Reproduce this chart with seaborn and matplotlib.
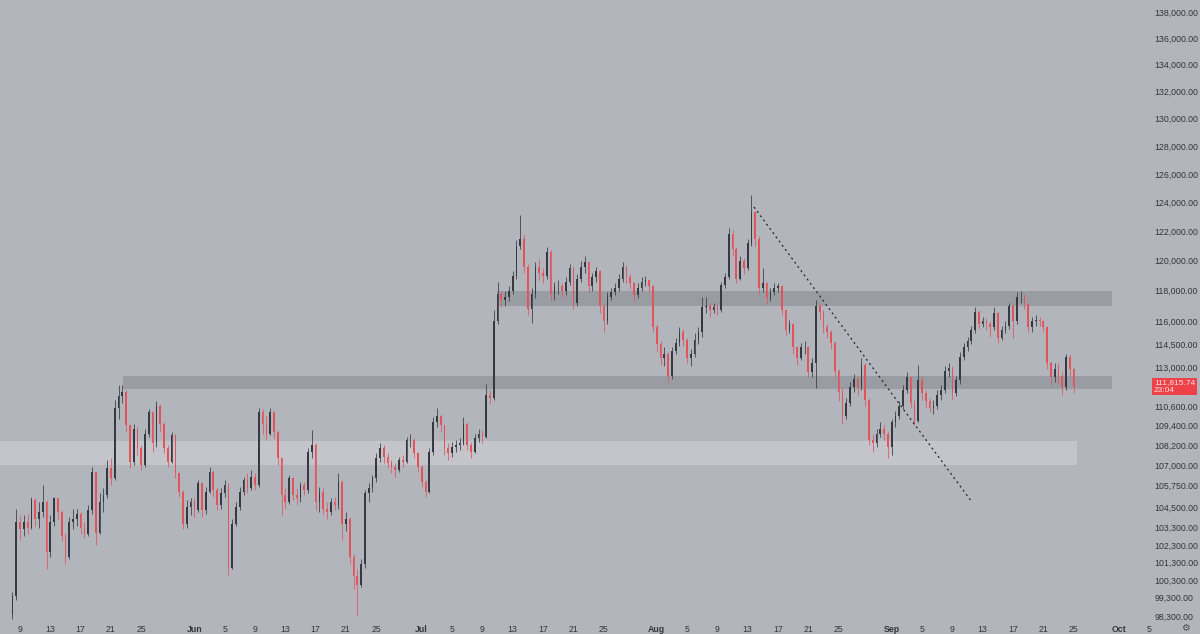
import numpy as np
import pandas as pd
import matplotlib
matplotlib.use('Agg')
import matplotlib.pyplot as plt
import matplotlib.dates as mdates
import matplotlib.transforms as mtransforms
from matplotlib.ticker import NullLocator
import seaborn as sns

# BTC 12h candles, May 8 - Sep 25 2025, prices in thousands of USD
first_open = 98.4

may_close = [99.4, 103.6, 103.2, 103.6, 103.3, 104.9, 103.8, 104.2, 104.8, 101.9,
             103.6, 105.0, 104.2, 102.8, 101.6, 103.6, 103.8, 104.1, 103.3, 102.9,
             104.3, 106.6, 103.0, 104.8, 105.2, 106.8, 106.2, 110.5, 111.2, 111.5,
             109.4, 107.2, 109.2, 108.0, 107.0, 108.9, 110.2, 108.3, 110.6, 109.5,
             108.0, 107.2, 108.8, 106.5, 105.4, 103.5, 104.5, 104.8]
may_high = [99.6, 104.4, 104.0, 104.0, 104.1, 105.1, 105.0, 104.8, 105.8, 104.9,
            104.0, 105.1, 105.0, 104.3, 103.0, 103.9, 104.4, 104.4, 104.2, 103.6,
            104.6, 106.9, 106.5, 105.3, 105.6, 107.3, 107.4, 111.0, 111.9, 111.9,
            111.6, 109.5, 109.5, 109.3, 108.2, 109.2, 110.4, 110.3, 110.9, 110.7,
            109.6, 108.2, 109.0, 108.9, 106.6, 105.5, 104.9, 105.0]
may_low = [98.1, 99.2, 102.6, 102.8, 102.9, 103.2, 103.4, 103.3, 103.9, 100.9,
           101.6, 103.4, 103.8, 102.5, 101.2, 101.5, 103.2, 103.4, 102.9, 102.7,
           102.8, 104.1, 102.3, 102.9, 104.2, 105.0, 105.8, 106.1, 109.8, 110.8,
           109.0, 106.8, 107.0, 107.6, 106.7, 106.9, 108.7, 107.8, 108.1, 109.0,
           107.7, 106.9, 107.1, 106.2, 105.1, 103.2, 103.3, 104.0]

jun_close = [104.3, 105.9, 104.3, 105.4, 106.6, 105.5, 104.6, 105.3, 105.8, 101.0,
             103.5, 104.5, 105.4, 106.1, 105.6, 106.3, 105.8, 110.2, 109.5, 108.9,
             110.2, 109.0, 107.4, 105.2, 104.8, 106.2, 105.2, 105.0, 105.8, 105.5,
             107.8, 108.2, 104.8, 105.4, 104.4, 104.2, 104.8, 104.6, 106.0, 103.5,
             103.8, 101.6, 100.5, 100.0, 101.2, 105.3, 105.6, 106.2, 107.4, 108.0,
             107.5, 107.1, 106.9, 106.7, 107.3, 107.2, 108.5, 108.5, 107.7, 106.9]
jun_high = [105.0, 106.1, 106.0, 105.7, 106.9, 106.7, 105.7, 105.6, 106.1, 105.9,
            103.8, 104.8, 105.7, 106.3, 106.5, 106.7, 106.5, 110.5, 110.4, 110.0,
            110.5, 110.3, 109.1, 107.5, 105.6, 106.4, 106.3, 105.6, 106.0, 106.0,
            108.0, 109.1, 108.3, 105.7, 105.6, 104.8, 105.0, 105.1, 106.5, 106.1,
            104.2, 103.9, 101.8, 100.9, 101.5, 105.5, 105.9, 106.4, 107.7, 108.3,
            108.2, 107.7, 107.3, 107.1, 107.5, 107.6, 108.7, 108.9, 108.6, 107.8]
jun_low = [103.9, 104.2, 103.9, 104.1, 105.3, 105.1, 104.3, 104.4, 105.1, 100.6,
           100.9, 103.4, 104.3, 105.2, 105.3, 105.5, 105.5, 105.7, 108.9, 108.5,
           108.8, 108.6, 107.0, 104.0, 104.4, 104.7, 104.9, 104.6, 104.8, 105.2,
           105.3, 107.4, 104.3, 104.2, 104.1, 103.8, 104.0, 104.3, 104.4, 102.6,
           103.1, 101.2, 99.8, 98.3, 99.9, 101.0, 104.8, 105.4, 106.0, 107.2,
           107.1, 106.8, 106.5, 106.3, 106.6, 106.9, 107.1, 108.1, 107.4, 106.6]

jul_close = [106.0, 105.4, 107.8, 109.6, 110.0, 109.4, 108.0, 107.7, 108.1, 108.2,
             108.3, 109.5, 108.2, 107.8, 108.6, 108.9, 108.7, 111.3, 111.1, 116.0,
             117.8, 117.4, 117.6, 118.0, 119.0, 121.0, 121.5, 119.6, 116.8, 117.8,
             119.6, 119.2, 119.0, 120.6, 117.8, 118.3, 118.3, 118.0, 118.6, 119.5,
             117.2, 118.8, 119.6, 119.9, 118.3, 118.9, 119.3, 117.0, 116.0, 117.6,
             117.9, 118.2, 118.8, 119.6, 118.9, 118.5, 117.7, 118.2, 118.6, 118.7,
             118.3, 115.6]
jul_high = [107.0, 106.1, 108.0, 109.9, 110.5, 110.1, 109.5, 108.3, 108.4, 108.5,
            108.6, 109.9, 109.6, 108.4, 108.9, 109.2, 109.1, 112.0, 111.6, 116.7,
            118.6, 118.0, 118.0, 118.3, 119.3, 121.4, 123.1, 121.8, 119.8, 118.2,
            119.9, 120.1, 119.5, 120.9, 120.7, 118.6, 118.7, 118.5, 118.9, 119.8,
            119.6, 119.1, 120.0, 120.3, 120.0, 119.2, 119.6, 119.4, 117.2, 117.9,
            118.2, 118.5, 119.1, 119.9, 119.7, 119.1, 118.6, 118.5, 118.9, 119.0,
            118.8, 118.4]
jul_low = [105.7, 105.1, 105.3, 107.6, 109.3, 109.0, 107.6, 107.3, 107.5, 107.8,
           107.9, 108.2, 107.9, 107.4, 107.7, 108.4, 108.3, 108.6, 110.7, 111.0,
           115.8, 116.9, 117.0, 117.3, 117.8, 118.8, 120.8, 119.2, 116.4, 115.9,
           117.5, 118.7, 118.5, 118.8, 117.3, 117.4, 117.8, 117.6, 117.7, 118.4,
           116.8, 117.0, 118.6, 119.2, 117.9, 118.0, 118.6, 116.5, 115.3, 115.8,
           117.4, 117.7, 118.0, 118.6, 118.5, 118.1, 117.3, 117.5, 118.0, 118.3,
           117.9, 115.3]

aug_close = [114.5, 113.6, 113.9, 112.5, 114.1, 114.6, 115.3, 114.8, 113.6, 113.9,
             114.8, 115.3, 116.9, 117.0, 116.7, 116.9, 116.7, 118.4, 118.9, 121.8,
             120.8, 118.8, 120.0, 119.5, 121.2, 123.3, 121.5, 118.2, 118.5, 117.5,
             117.9, 118.2, 118.3, 116.7, 115.4, 115.8, 114.3, 113.6, 114.3, 114.3,
             112.7, 113.3, 117.0, 116.6, 115.6, 115.3, 114.6, 112.8, 111.5, 110.0,
             110.8, 111.8, 112.3, 111.7, 113.2, 111.0, 108.5, 108.3, 108.9, 109.2,
             108.9, 108.1]
aug_high = [115.8, 114.7, 114.3, 114.0, 114.3, 114.9, 115.6, 115.5, 114.9, 114.2,
            115.2, 115.6, 117.6, 117.6, 117.2, 117.2, 117.1, 118.6, 119.2, 122.2,
            122.1, 120.9, 120.3, 120.2, 121.5, 124.5, 123.4, 121.7, 119.5, 118.6,
            118.2, 118.5, 118.5, 118.4, 116.8, 116.1, 115.9, 114.4, 114.6, 114.7,
            114.4, 113.6, 117.4, 117.2, 116.7, 115.8, 115.4, 114.7, 112.9, 111.7,
            111.1, 112.1, 112.6, 112.5, 113.6, 113.3, 111.1, 108.9, 109.2, 109.6,
            109.4, 109.0]
aug_low = [114.1, 113.2, 113.1, 112.1, 112.3, 113.9, 114.4, 114.4, 113.3, 113.1,
           113.7, 114.5, 115.0, 116.5, 116.3, 116.5, 116.4, 116.6, 118.2, 118.8,
           120.3, 118.5, 118.7, 119.1, 119.4, 121.0, 121.0, 117.8, 117.9, 117.1,
           117.3, 117.7, 117.9, 116.4, 115.1, 115.2, 113.9, 113.2, 113.5, 113.9,
           112.4, 112.4, 111.7, 116.1, 115.2, 114.9, 114.2, 112.4, 110.9, 109.5,
           109.8, 110.6, 111.5, 111.3, 111.6, 110.6, 108.2, 107.8, 108.1, 108.7,
           108.5, 107.4]

sep_close = [109.6, 110.0, 110.6, 111.6, 112.4, 110.8, 109.7, 112.2, 111.4, 110.9,
             110.5, 110.6, 111.3, 111.6, 112.8, 113.0, 111.4, 112.2, 113.7, 114.3,
             114.7, 115.4, 116.6, 115.8, 116.0, 115.8, 115.6, 116.5, 114.9, 115.4,
             115.7, 117.0, 116.0, 117.6, 117.6, 117.1, 115.6, 116.0, 116.1, 116.0,
             115.6, 113.3, 112.4, 112.9, 112.5, 111.8, 113.7, 112.9, 111.8]
sep_high = [109.8, 110.3, 110.9, 111.9, 112.7, 112.5, 111.0, 113.2, 112.5, 111.6,
            111.1, 111.0, 111.6, 111.9, 113.1, 113.3, 113.1, 112.5, 114.0, 114.6,
            115.0, 115.7, 116.9, 116.7, 116.3, 116.2, 116.0, 116.9, 116.6, 115.7,
            116.0, 117.2, 117.1, 117.9, 118.0, 117.8, 117.2, 116.3, 116.4, 116.3,
            116.1, 115.7, 113.4, 113.3, 113.3, 112.7, 113.9, 113.8, 113.0]
sep_low = [107.6, 109.3, 109.8, 110.4, 111.4, 110.5, 109.4, 109.6, 111.0, 110.5,
           110.2, 110.1, 110.4, 111.0, 111.4, 112.4, 111.0, 111.2, 112.0, 113.5,
           114.1, 114.5, 115.2, 115.5, 115.6, 115.4, 115.0, 115.4, 114.6, 114.8,
           115.2, 115.5, 114.9, 115.8, 117.2, 116.8, 115.3, 115.3, 115.7, 115.7,
           115.3, 112.9, 111.9, 112.1, 112.0, 111.3, 111.6, 112.4, 111.4]

last_price = 111815.74
last_countdown = '23:04'

# drawn levels (thousands)
zone_start = ['2025-05-01', '2025-05-22 14:00', '2025-07-10 22:00']
zone_end = ['2025-09-25 10:00', '2025-09-30 02:00', '2025-09-30 02:00']
zone_low = [106.99, 111.66, 117.00]
zone_high = [108.45, 112.48, 117.99]
zone_color = ['#c3c5cb', '#999ca3', '#999ca3']

trend_dates = ['2025-08-13 20:00', '2025-09-11 14:00']
trend_prices = [123.68, 104.79]

price_ticks = [138000, 136000, 134000, 132000, 130000, 128000, 126000, 124000,
               122000, 120000, 118000, 116000, 114500, 113000, 110600, 109400,
               108200, 107000, 105750, 104500, 103300, 102300, 101300, 100300,
               99300, 98300]
month_names = ['Jun', 'Jul', 'Aug', 'Sep', 'Oct']
tick_days = [5, 9, 13, 17, 21, 25]

# ---- assemble candles
close = np.array(may_close + jun_close + jul_close + aug_close + sep_close) * 1000
high = np.array(may_high + jun_high + jul_high + aug_high + sep_high) * 1000
low = np.array(may_low + jun_low + jul_low + aug_low + sep_low) * 1000
opn = np.concatenate([[first_open * 1000], close[:-1]])
high = np.maximum(high, np.maximum(opn, close))
low = np.minimum(low, np.minimum(opn, close))
times = pd.date_range('2025-05-08', periods=len(close), freq='12h')
tnum = mdates.date2num(times)
up = close >= opn

bg = '#b2b5bc'
red = '#e2545a'
dark = '#363941'
txt = '#33363e'

sns.set_theme(style='white', rc={'axes.facecolor': bg, 'figure.facecolor': bg})
plt.rcParams['font.family'] = ['Liberation Sans', 'DejaVu Sans']

fig = plt.figure(figsize=(12, 6.34), dpi=100)
ax = fig.add_axes([0, 14 / 634, 1150 / 1200, 620 / 634])
ax.set_facecolor(bg)

for s, e, lo, hi, c in zip(zone_start, zone_end, zone_low, zone_high, zone_color):
    xs = mdates.date2num([pd.Timestamp(s), pd.Timestamp(e)])
    ax.fill_between(xs, lo * 1000, hi * 1000, color=c, lw=0, zorder=1)

cols = np.where(up, dark, red)
ax.vlines(tnum, low, high, colors=cols, lw=0.55, zorder=3)
bot = np.minimum(opn, close)
hgt = np.abs(close - opn)
ax.bar(tnum, hgt, bottom=bot, width=0.22, color=cols, lw=0, zorder=4)

tr = pd.DataFrame({'t': mdates.date2num(pd.to_datetime(trend_dates)),
                   'p': np.array(trend_prices) * 1000})
sns.lineplot(data=tr, x='t', y='p', ax=ax, color='#24272d', lw=0.9,
             linestyle=(0, (1.6, 2.6)), zorder=5)

ax.set_yscale('log')
ax.set_ylim(138000 * np.exp(-608 / 1780), 138000 * np.exp(12 / 1780))
x0 = mdates.date2num(pd.Timestamp('2025-05-09'))
ax.set_xlim(x0 - 20 / 7.58, x0 + 1130 / 7.58)

ax.yaxis.tick_right()
ax.set_yticks(price_ticks)
ax.set_yticklabels([f'{v:,.2f}' for v in price_ticks])
ax.yaxis.set_minor_locator(NullLocator())
ax.tick_params(axis='y', length=0, pad=3, labelsize=6.3, labelcolor=txt)

xt, xl = [], []
for d in [9, 13, 17, 21, 25]:
    xt.append(pd.Timestamp(2025, 5, d))
    xl.append(str(d))
for m, name in enumerate(month_names):
    xt.append(pd.Timestamp(2025, 6 + m, 1))
    xl.append(name)
    days = tick_days if name != 'Oct' else [5]
    for d in days:
        xt.append(pd.Timestamp(2025, 6 + m, d))
        xl.append(str(d))
ax.set_xticks(mdates.date2num(xt))
ax.set_xticklabels(xl)
ax.tick_params(axis='x', length=0, pad=3.5, labelsize=6.3, labelcolor=txt)
for lab in ax.get_xticklabels():
    if lab.get_text() in month_names:
        lab.set_fontweight('bold')

ax.set_xlabel('')
ax.set_ylabel('')
ax.grid(False)
sns.despine(ax=ax, left=True, bottom=True, top=True, right=True)

trans = mtransforms.blended_transform_factory(ax.transAxes, ax.transData)
ax.text(1 + 4 / 1150, last_price, f'{last_price:,.2f}\n{last_countdown}', transform=trans,
        ha='left', va='center', fontsize=6.0, color='#fbe3e4', linespacing=1.05,
        bbox=dict(boxstyle='square,pad=0.2', fc='#ee4148', ec='none'), zorder=10)

fig.text(1185 / 1200, 1 - 628 / 634, '\u2699', ha='center', va='center',
         fontsize=7, color='#4a4d55', family='DejaVu Sans')

fig.savefig('out.png', dpi=100, facecolor=bg)
